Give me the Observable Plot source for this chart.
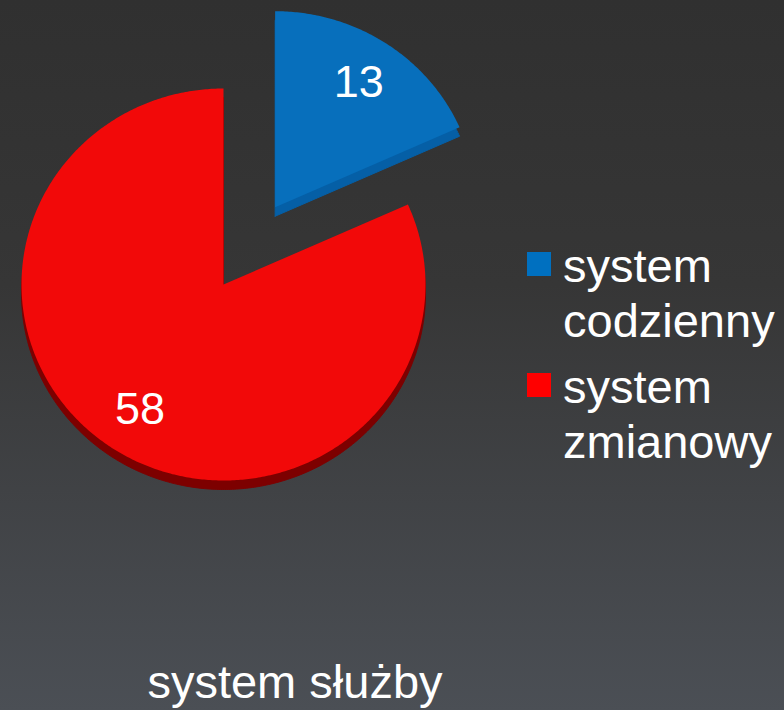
<!DOCTYPE html>
<html>
<head>
<meta charset="utf-8">
<script src="https://cdn.jsdelivr.net/npm/d3@7"></script>
<script src="https://cdn.jsdelivr.net/npm/@observablehq/plot@0.6"></script>
<style>
  html, body { margin: 0; padding: 0; }
  body {
    width: 784px; height: 710px; overflow: hidden;
    background: linear-gradient(to bottom, #303030 0%, #363636 40%, #4b4f55 100%);
    font-family: "Liberation Sans", Arial, sans-serif;
  }
  #wrap { position: relative; width: 784px; height: 710px; }
  #chart { position: absolute; left: 0; top: 0; }
  .legend { position: absolute; left: 527px; top: 238px; color: #fff; font-size: 47px; line-height: 55px; }
  .item { position: relative; padding-left: 36px; margin-bottom: 11px; }
  .sw { position: absolute; left: 0; top: 14px; width: 24px; height: 24px; }
  .title { position: absolute; left: 0; width: 590px; top: 654px; text-align: center; color: #fff; font-size: 47px; line-height: 55px; }
</style>
</head>
<body>
<div id="wrap">
  <div id="chart"></div>
  <div class="legend" id="legend"></div>
  <div class="title" id="title"></div>
</div>
<script>
// ---- data ----
const categories = ["system codzienny", "system zmianowy"];
const values = [13, 58];
const colors = ["#076fbc", "#f20909"];
const sideColors = ["#055fa6", "#7d0000"];
const explode = [0.47, 0];
const chartTitle = "system służby";

// ---- layout ----
const W = 784, H = 640;
const cx = 223, cy = 284, rx = 202, ry = 196, depth = 9;

const arcs = d3.pie().sort(null).value(d => d)(values);

function slicePoints(a, i) {
  const mid = (a.startAngle + a.endAngle) / 2;
  const ox = cx + explode[i] * Math.sin(mid) * rx;
  const oy = cy - explode[i] * Math.cos(mid) * ry;
  const n = Math.max(8, Math.ceil((a.endAngle - a.startAngle) / 0.01));
  const pts = [{x: ox, y: oy}];
  for (let k = 0; k <= n; k++) {
    const t = a.startAngle + (a.endAngle - a.startAngle) * k / n;
    pts.push({x: ox + Math.sin(t) * rx, y: oy - Math.cos(t) * ry});
  }
  pts.push({x: ox, y: oy});
  return {pts, ox, oy, mid};
}

const faces = [], sides = [], labels = [];
arcs.forEach((a, i) => {
  const s = slicePoints(a, i);
  s.pts.forEach(p => {
    faces.push({...p, key: categories[i], color: colors[i]});
    sides.push({x: p.x, y: p.y + depth, key: categories[i], color: sideColors[i]});
  });
  labels.push({
    x: s.ox + 0.76 * Math.sin(s.mid) * rx,
    y: s.oy - 0.76 * Math.cos(s.mid) * ry,
    text: String(values[i])
  });
});

const chart = Plot.plot({
  width: W, height: H,
  margin: 0,
  x: {domain: [0, W], range: [0, W], axis: null},
  y: {domain: [0, H], range: [0, H], axis: null},
  style: {background: "transparent", overflow: "visible"},
  marks: [
    Plot.line(sides, {x: "x", y: "y", z: "key", fill: "color", stroke: "color", strokeWidth: 1, curve: "linear"}),
    Plot.line(faces, {x: "x", y: "y", z: "key", fill: "color", stroke: null, curve: "linear"}),
    Plot.text(labels, {x: "x", y: "y", text: "text", fill: "white", fontSize: 45,
      fontFamily: "Liberation Sans, Arial, sans-serif", textAnchor: "middle", lineAnchor: "middle"})
  ]
});
document.getElementById("chart").appendChild(chart);

// legend
const leg = document.getElementById("legend");
categories.forEach((c, i) => {
  const it = document.createElement("div");
  it.className = "item";
  const sw = document.createElement("span");
  sw.className = "sw";
  sw.style.background = i === 0 ? "#0070c0" : "#ff0000";
  it.appendChild(sw);
  const words = c.split(" ");
  it.appendChild(document.createTextNode(words[0]));
  it.appendChild(document.createElement("br"));
  it.appendChild(document.createTextNode(words.slice(1).join(" ")));
  leg.appendChild(it);
});
document.getElementById("title").textContent = chartTitle;
</script>
</body>
</html>
